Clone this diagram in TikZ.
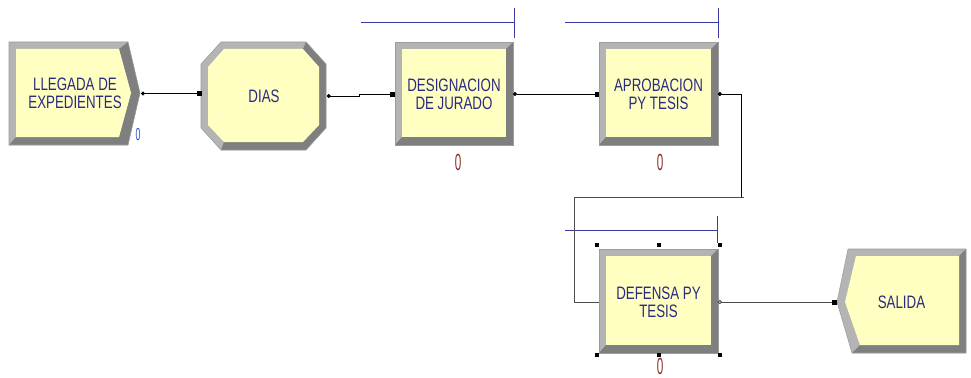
\documentclass[tikz,border=0pt]{standalone}
\usepackage{fontspec}
\usetikzlibrary{arrows.meta}
\newfontfamily\arenafont[FakeStretch=0.74]{Liberation Sans}
\newfontfamily\countfont[FakeStretch=0.5]{Liberation Sans}
\definecolor{framelight}{HTML}{B4B4B4}
\definecolor{framedark}{HTML}{7F7F7F}
\definecolor{frameedge}{HTML}{9C9C9C}
\definecolor{cellyellow}{HTML}{FFFFC2}
\definecolor{labelblue}{HTML}{2A2A80}
\definecolor{queueblue}{HTML}{3B3BA5}
\definecolor{countred}{HTML}{8E2B22}
\definecolor{countblue}{HTML}{2A4BD0}
\tikzset{
  module/.style={inner sep=0pt, outer sep=0pt, align=center, text=labelblue,
    font=\arenafont\fontsize{13.5}{13.5}\selectfont},
  counter/.style={inner sep=0pt, font=\countfont\fontsize{17.5}{17.5}\selectfont, text=countred},
  queue/.style={draw=queueblue, line width=0.75pt},
  link/.style={line width=0.6pt, {Circle[length=3pt]}-{Square[length=3.5pt,width=3.5pt]}},
}
% process box with bevelled frame: x0,y0,x1,y1 in px
\newcommand{\bevelbox}[4]{%
  \fill[framelight] (#1,#2) rectangle (#3,#4);
  \fill[framedark] (#3,#2) -- (#3,#4) -- (#1,#4) -- (#1+7,#4-8) -- (#3-7,#4-8) -- (#3-7,#2+7) -- cycle;
  \fill[cellyellow] (#1+7,#2+7) rectangle (#3-7,#4-8);
  \draw[frameedge, line width=0.4pt] (#1,#2) rectangle (#3,#4);
}

\begin{document}
\begin{tikzpicture}[x=0.75pt, y=-0.75pt]
  \useasboundingbox (0,0) rectangle (971,378);

  % create
  \fill[framelight] (9,42) -- (128,42) -- (140,93) -- (128,145) -- (9,145) -- cycle;
  \fill[framedark] (128,42) -- (140,93) -- (128,145) -- (9,145) -- (16,137)
    -- (119,137) -- (131,93) -- (119,49) -- cycle;
  \fill[cellyellow] (16,49) -- (119,49) -- (131,93) -- (119,137) -- (16,137) -- cycle;
  \draw[frameedge, line width=0.4pt] (9,42) -- (128,42) -- (140,93) -- (128,145) -- (9,145) -- cycle;
  % delay (octagon)
  \fill[framelight] (221,42) -- (306,42) -- (326,64) -- (326,128) -- (306,150)
    -- (221,150) -- (201,128) -- (201,64) -- cycle;
  \fill[framedark] (306,42) -- (326,64) -- (326,128) -- (306,150) -- (221,150)
    -- (224,142) -- (303,142) -- (319,125) -- (319,67) -- (303,49) -- cycle;
  \fill[cellyellow] (224,49) -- (303,49) -- (319,67) -- (319,125) -- (303,142)
    -- (224,142) -- (208,125) -- (208,67) -- cycle;
  \draw[frameedge, line width=0.4pt] (221,42) -- (306,42) -- (326,64) -- (326,128) -- (306,150)
    -- (221,150) -- (201,128) -- (201,64) -- cycle;
  % processes
  \bevelbox{395}{42}{513}{145}
  \bevelbox{599}{42}{718}{145}
  \bevelbox{599}{249}{718}{353}
  % dispose
  \fill[framelight] (848,249) -- (966,249) -- (966,353) -- (852,353) -- (837,302) -- cycle;
  \fill[framedark] (966,249) -- (966,353) -- (852,353) -- (860,345) -- (959,345) -- (959,256) -- cycle;
  \fill[cellyellow] (856,256) -- (959,256) -- (959,345) -- (860,345) -- (845,302) -- cycle;
  \draw[frameedge, line width=0.4pt] (848,249) -- (966,249) -- (966,353) -- (852,353) -- (837,302) -- cycle;

  % labels
  \node[module, minimum width=99pt, minimum height=77pt] (cre) at (75,93.5) {LLEGADA DE\\EXPEDIENTES};
  \node[module, minimum width=94pt, minimum height=81pt] (dias) at (264,96) {DIAS};
  \node[module, minimum width=88.5pt, minimum height=77pt] (des) at (454,94) {DESIGNACION\\DE JURADO};
  \node[module, minimum width=89pt, minimum height=77pt] (apr) at (658.5,94) {APROBACION\\PY TESIS};
  \node[module, minimum width=89pt, minimum height=78pt] (def) at (658.5,302) {DEFENSA PY\\TESIS};
  \node[module, minimum width=97pt, minimum height=78pt] (sal) at (901.5,302) {SALIDA};

  % counters
  \node[counter, text=countblue, font=\countfont\fontsize{13}{13}\selectfont] (creq) at (138,135) {0};
  \node[counter] (desq) at (458,162) {0};
  \node[counter] (aprq) at (660,162) {0};
  \node[counter] (defq) at (660,366) {0};

  % queues
  \draw[queue] (361,23) -- (514,23) (514,8) -- (514,38);
  \draw[queue] (565,23) -- (718,23) (718,8) -- (718,38);
  \draw[queue] (565,230) -- (717,230) (717,216) -- (717,243);

  % connections
  \coordinate (bend) at (574,197);
  \draw[link] (cre.east) -- (cre.east -| dias.west);
  \draw[link] (dias.east) -- ++(33,0) |- (des.west);
  \draw[link] (des.east) -- (apr.west);
  \draw[line width=0.6pt, {Circle[length=3pt]}-] (apr.east) -- ++(24,0) |- (bend);
  \draw[line width=0.6pt, black!70] (744,197) -- (bend) |- (def.west);
  \draw[line width=0.6pt, black!70, {Circle[open,length=3pt]}-{Square[length=3.5pt,width=3.5pt,black]}]
    (def.east) -- (sal.west);

  % selection handles
  \foreach \hx in {597,659,720}
    \foreach \hy in {245,355}
      \fill (\hx-2,\hy-2) rectangle ++(4,4);
\end{tikzpicture}
\end{document}
